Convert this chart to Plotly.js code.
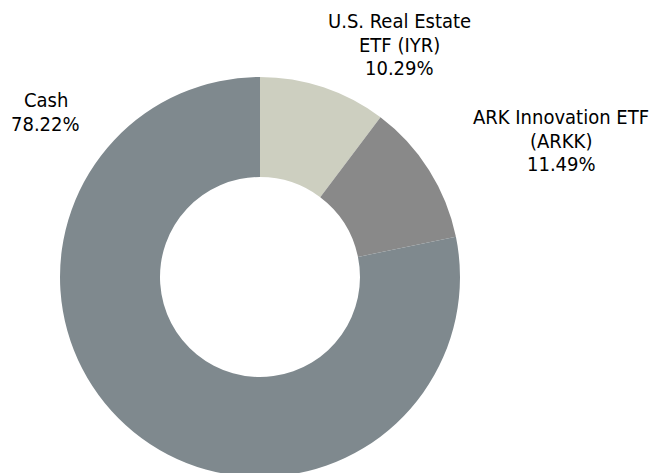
<!DOCTYPE html>
<html>
<head>
<meta charset="utf-8">
<script src="https://cdn.plot.ly/plotly-3.0.1.min.js"></script>
<style>
html,body{margin:0;padding:0;overflow:hidden;background:#fff;}
#chart{width:653px;height:560px;}
</style>
</head>
<body>
<div id="chart"></div>
<script>
const labels = ["U.S. Real Estate ETF (IYR)", "ARK Innovation ETF (ARKK)", "Cash"];
const labelLines = [["U.S. Real Estate", "ETF (IYR)"], ["ARK Innovation ETF", "(ARKK)"], ["Cash"]];
const values = [10.29, 11.49, 78.22];
const colors = ["#CDCFC0", "#898989", "#7F898E"];
// outside label block: centre x and first-line y (pixels from top-left)
const labelX = [400, 561, 45.5];
const labelY = [21, 117, 100];
const lineStep = 23.5;

const W = 653, H = 560;
const annotations = [];
labelLines.forEach((lines, i) => {
  const all = lines.concat([values[i].toFixed(2) + "%"]);
  all.forEach((t, k) => {
    annotations.push({
      text: t,
      x: labelX[i] / W, y: (H - (labelY[i] + k * lineStep)) / H,
      xref: "paper", yref: "paper",
      xanchor: "center", yanchor: "middle", showarrow: false,
      font: {family: "DejaVu Sans Condensed, DejaVu Sans, sans-serif", size: 20, color: "#000"}
    });
  });
});

Plotly.newPlot("chart", [{
  type: "pie",
  labels: labels,
  values: values,
  hole: 0.5,
  sort: false,
  direction: "clockwise",
  rotation: 0,
  textinfo: "none",
  marker: {colors: colors, line: {color: "#ffffff", width: 0}},
  domain: {x: [60 / W, 460 / W], y: [83 / H, 483 / H]},
  showlegend: false,
  hoverinfo: "label+percent"
}], {
  width: W, height: H,
  margin: {l: 0, r: 0, t: 0, b: 0},
  paper_bgcolor: "#fff",
  showlegend: false,
  annotations: annotations
}, {staticPlot: true});
</script>
</body>
</html>
